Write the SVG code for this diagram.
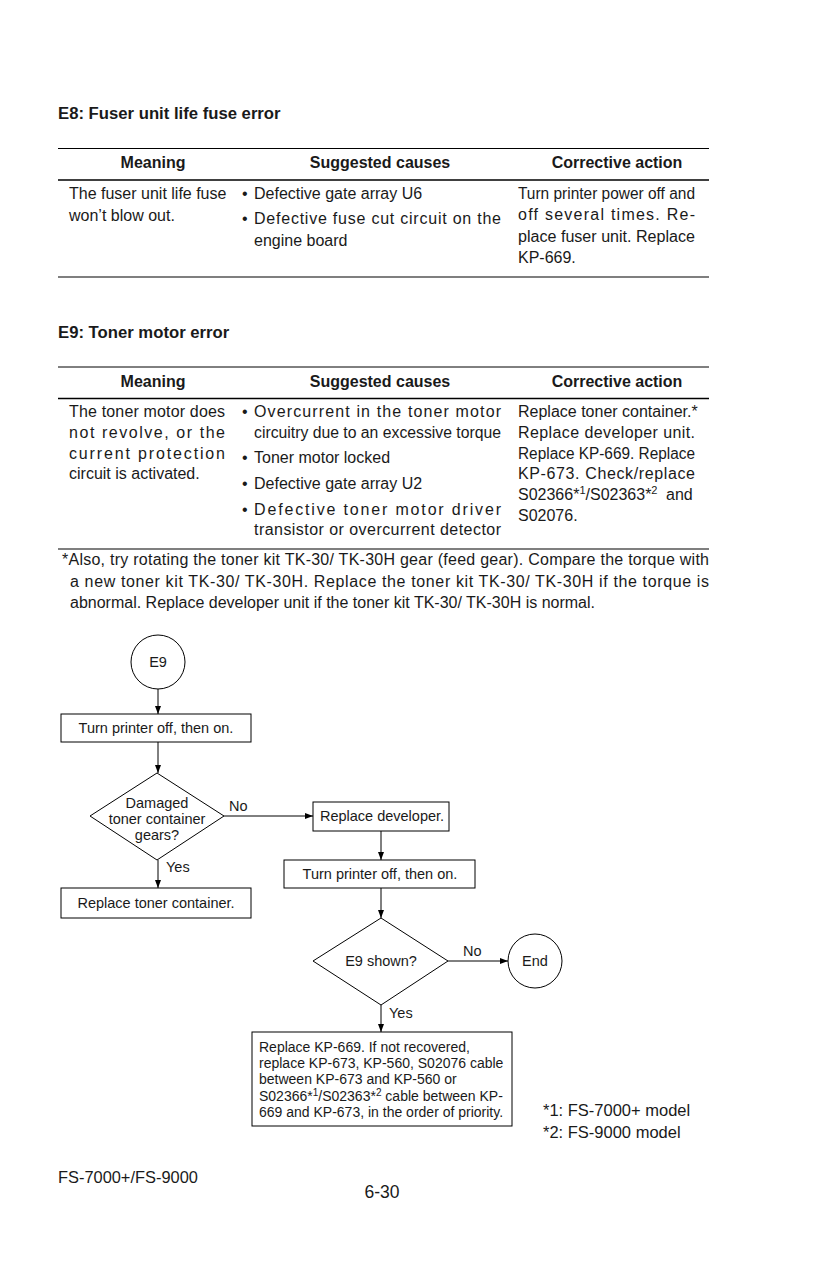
<svg xmlns="http://www.w3.org/2000/svg" width="825" height="1275" viewBox="0 0 825 1275">
<defs>
<marker id="arr" markerWidth="8" markerHeight="6" refX="8" refY="3" orient="auto" markerUnits="userSpaceOnUse">
<path d="M0,0 L8,3 L0,6 Z" fill="#000"/>
</marker>
<style>
text{font-family:"Liberation Sans",Arial,sans-serif;fill:#1a1a1a}
.t{font-size:16px}
.b{font-size:16px;font-weight:bold}
.h{font-size:16px;font-weight:bold;text-anchor:middle}
.f{font-size:14.5px}
.fc{font-size:14.5px;text-anchor:middle}
.s{font-size:14px}
.rule{stroke:#000;fill:none}
.nd{fill:#fff;stroke:#000;stroke-width:1}
.cn{stroke:#000;stroke-width:1;fill:none;marker-end:url(#arr)}
.ln{stroke:#000;stroke-width:1;fill:none}
</style>
</defs>
<rect width="825" height="1275" fill="#fff"/>

<!-- Table E8 -->
<g id="table-e8">
<text class="b" x="58" y="119" style="font-size:16.7px">E8: Fuser unit life fuse error</text>
<line class="rule" x1="58" y1="148.5" x2="709" y2="148.5" stroke-width="1"/>
<text class="h" x="153" y="168">Meaning</text>
<text class="h" x="380" y="168">Suggested causes</text>
<text class="h" x="617" y="168">Corrective action</text>
<line class="rule" x1="58" y1="180" x2="709" y2="180" stroke-width="1.6"/>
<text class="t" x="69" y="199">The fuser unit life fuse</text>
<text class="t" x="69" y="221">won’t blow out.</text>
<text class="t" x="242" y="199">•</text>
<text class="t" x="254" y="199">Defective gate array U6</text>
<text class="t" x="242" y="224">•</text>
<text class="t" x="254" y="224" textLength="247" lengthAdjust="spacing">Defective fuse cut circuit on the</text>
<text class="t" x="254" y="246">engine board</text>
<text class="t" x="518" y="199" textLength="177" lengthAdjust="spacingAndGlyphs">Turn printer power off and</text>
<text class="t" x="518" y="220" textLength="177" lengthAdjust="spacing">off several times. Re-</text>
<text class="t" x="518" y="242" textLength="177" lengthAdjust="spacingAndGlyphs">place fuser unit. Replace</text>
<text class="t" x="518" y="263">KP-669.</text>
<line class="rule" x1="58" y1="277" x2="709" y2="277" stroke-width="1.2"/>
</g>

<!-- Table E9 -->
<g id="table-e9">
<text class="b" x="58" y="338" style="font-size:16.7px">E9: Toner motor error</text>
<line class="rule" x1="58" y1="367" x2="709" y2="367" stroke-width="1"/>
<text class="h" x="153" y="387">Meaning</text>
<text class="h" x="380" y="387">Suggested causes</text>
<text class="h" x="617" y="387">Corrective action</text>
<line class="rule" x1="58" y1="398.5" x2="709" y2="398.5" stroke-width="1.6"/>
<text class="t" x="69" y="417" textLength="156" lengthAdjust="spacing">The toner motor does</text>
<text class="t" x="69" y="438" textLength="156" lengthAdjust="spacing">not revolve, or the</text>
<text class="t" x="69" y="459" textLength="156" lengthAdjust="spacing">current protection</text>
<text class="t" x="69" y="479">circuit is activated.</text>
<text class="t" x="242" y="417">•</text>
<text class="t" x="254" y="417" textLength="247" lengthAdjust="spacing">Overcurrent in the toner motor</text>
<text class="t" x="254" y="438" textLength="247" lengthAdjust="spacingAndGlyphs">circuitry due to an excessive torque</text>
<text class="t" x="242" y="463">•</text>
<text class="t" x="254" y="463">Toner motor locked</text>
<text class="t" x="242" y="489">•</text>
<text class="t" x="254" y="489">Defective gate array U2</text>
<text class="t" x="242" y="515">•</text>
<text class="t" x="254" y="515" textLength="247" lengthAdjust="spacing">Defective toner motor driver</text>
<text class="t" x="254" y="535" textLength="247" lengthAdjust="spacing">transistor or overcurrent detector</text>
<text class="t" x="518" y="417">Replace toner container.*</text>
<text class="t" x="518" y="438" textLength="177" lengthAdjust="spacing">Replace developer unit.</text>
<text class="t" x="518" y="459" textLength="177" lengthAdjust="spacingAndGlyphs">Replace KP-669. Replace</text>
<text class="t" x="518" y="479" textLength="177" lengthAdjust="spacing">KP-673. Check/replace</text>
<text class="t" x="518" y="500">S02366*<tspan dy="-6" style="font-size:11px">1</tspan><tspan dy="6">/S02363*</tspan><tspan dy="-6" style="font-size:11px">2</tspan><tspan dy="6" x="666">and</tspan></text>
<text class="t" x="518" y="521">S02076.</text>
<line class="rule" x1="58" y1="549" x2="709" y2="549" stroke-width="1.2"/>
<text class="t" x="62" y="565" textLength="647" lengthAdjust="spacing">*Also, try rotating the toner kit TK-30/ TK-30H gear (feed gear). Compare the torque with</text>
<text class="t" x="70" y="587" textLength="639" lengthAdjust="spacing">a new toner kit TK-30/ TK-30H. Replace the toner kit TK-30/ TK-30H if the torque is</text>
<text class="t" x="70" y="608">abnormal. Replace developer unit if the toner kit TK-30/ TK-30H is normal.</text>
</g>

<!-- Flowchart connectors -->
<g id="connectors">
<line class="cn" x1="158" y1="689" x2="158" y2="714"/>
<line class="cn" x1="158" y1="742" x2="158" y2="773"/>
<line class="cn" x1="224" y1="816" x2="313" y2="816"/>
<line class="cn" x1="158" y1="860" x2="158" y2="888"/>
<line class="cn" x1="381" y1="831" x2="381" y2="860"/>
<line class="cn" x1="381" y1="888" x2="381" y2="918"/>
<line class="cn" x1="448" y1="961" x2="508" y2="961"/>
<line class="cn" x1="381" y1="1005" x2="381" y2="1032"/>
<text class="f" x="229" y="811">No</text>
<text class="f" x="166" y="872">Yes</text>
<text class="f" x="463" y="956">No</text>
<text class="f" x="389" y="1018">Yes</text>
</g>

<!-- Nodes -->
<g id="n-e9">
<circle class="nd" cx="158" cy="662" r="27"/>
<text class="fc" x="158" y="667">E9</text>
</g>
<g id="n-turn1">
<rect class="nd" x="61" y="714" width="190" height="28"/>
<text class="fc" x="156" y="733">Turn printer off, then on.</text>
</g>
<g id="n-damaged">
<polygon class="nd" points="157,773 224,816 157,860 90,816"/>
<text class="fc" x="157" y="808">Damaged</text>
<text class="fc" x="157" y="824">toner container</text>
<text class="fc" x="157" y="840">gears?</text>
</g>
<g id="n-replace-toner">
<rect class="nd" x="61" y="888" width="190" height="30"/>
<text class="fc" x="156" y="908">Replace toner container.</text>
</g>
<g id="n-replace-dev">
<rect class="nd" x="313" y="802" width="136" height="29"/>
<text class="fc" x="382" y="821">Replace developer.</text>
</g>
<g id="n-turn2">
<rect class="nd" x="284" y="860" width="191" height="28"/>
<text class="fc" x="380" y="879">Turn printer off, then on.</text>
</g>
<g id="n-e9shown">
<polygon class="nd" points="381,918 448,961 381,1005 313,961"/>
<text class="fc" x="381" y="966">E9 shown?</text>
</g>
<g id="n-end">
<circle class="nd" cx="535" cy="961" r="27"/>
<text class="fc" x="535" y="966">End</text>
</g>
<g id="n-replace-kp">
<rect class="nd" x="252" y="1032" width="260" height="94"/>
<text class="s" x="259" y="1052">Replace KP-669. If not recovered,</text>
<text class="s" x="259" y="1068">replace KP-673, KP-560, S02076 cable</text>
<text class="s" x="259" y="1084">between KP-673 and KP-560 or</text>
<text class="s" x="259" y="1101">S02366*<tspan dy="-5" style="font-size:10px">1</tspan><tspan dy="5">/S02363*</tspan><tspan dy="-5" style="font-size:10px">2</tspan><tspan dy="5"> cable between KP-</tspan></text>
<text class="s" x="259" y="1117">669 and KP-673, in the order of priority.</text>
</g>

<g id="notes">
<text class="t" x="543" y="1116" style="font-size:16.5px">*1: FS-7000+ model</text>
<text class="t" x="543" y="1138" style="font-size:16.5px">*2: FS-9000 model</text>
<text class="t" x="58" y="1183" style="font-size:16.4px">FS-7000+/FS-9000</text>
<text class="t" x="382" y="1198" text-anchor="middle" style="font-size:17.5px">6-30</text>
</g>
</svg>
